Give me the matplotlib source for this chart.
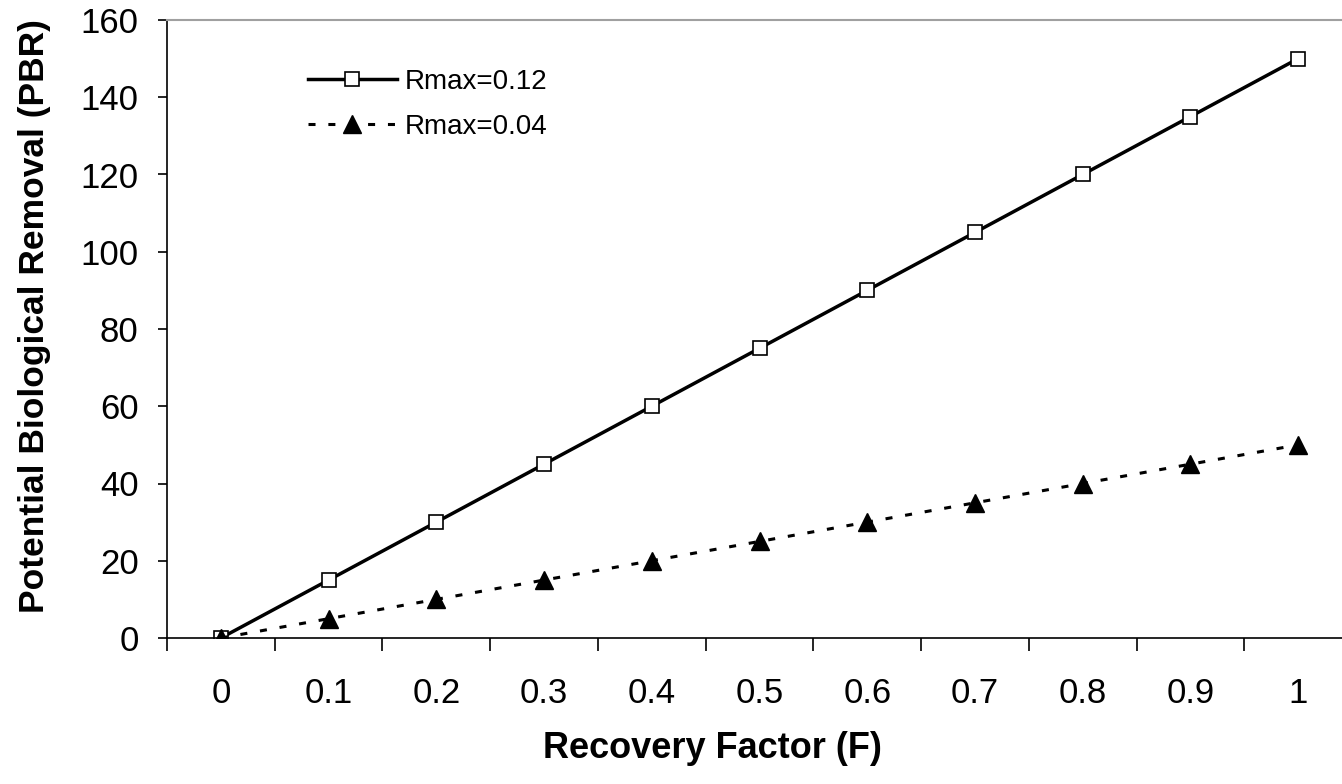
import matplotlib
matplotlib.use("Agg")
import matplotlib.pyplot as plt
import numpy as np

plt.rcParams["font.family"] = ["Liberation Sans", "DejaVu Sans"]

# recovery factor categories and PBR values for two Rmax values
factors = ["0", "0.1", "0.2", "0.3", "0.4", "0.5", "0.6", "0.7", "0.8", "0.9", "1"]
pbr_r012 = [0, 15, 30, 45, 60, 75, 90, 105, 120, 135, 150]
pbr_r004 = [0, 5, 10, 15, 20, 25, 30, 35, 40, 45, 50]
yticks = [0, 20, 40, 60, 80, 100, 120, 140, 160]

W, H = 1342, 784
fig = plt.figure(figsize=(W / 100, H / 100), dpi=100)
ax = fig.add_axes([167 / W, 146 / H, 1185 / W, 618 / H])

x = np.arange(len(factors))
ax.plot(x, pbr_r012, color="black", lw=2.5, marker="s", ms=10,
        mfc="white", mec="black", mew=1.2, label="Rmax=0.12")
ax.plot(x, pbr_r004, color="black", lw=2.2, ls=(0, (2.3, 4.2)), marker="^",
        ms=13, mfc="black", mec="black", label="Rmax=0.04")

ax.set_xlim(-0.5, len(factors) - 0.5)
ax.set_ylim(0, 160)

ax.set_xticks(x)
ax.set_xticklabels(factors, fontsize=25)
ax.set_xticks(np.arange(-0.5, len(factors), 1.0), minor=True)
ax.tick_params(axis="x", which="major", length=0, pad=28)
ax.tick_params(axis="x", which="minor", length=9, width=1.2, direction="out")

ax.set_yticks(yticks)
ax.tick_params(axis="y", which="major", labelsize=25, length=6.5, width=1.2,
               direction="out", pad=14)

for side in ["left", "bottom"]:
    ax.spines[side].set_linewidth(1.2)
ax.spines["right"].set_visible(False)
ax.spines["top"].set_color("#a0a0a0")
ax.spines["top"].set_linewidth(1.5)

fig.text(712 / W, 1 - 748 / H, "Recovery Factor (F)", fontsize=26,
         fontweight="bold", ha="center", va="center")
fig.text(35 / W, 1 - 316 / H, "Potential Biological Removal (PBR)",
         fontsize=25.5, fontweight="bold", ha="center", va="center",
         rotation=90)

ax.legend(loc="center left", bbox_to_anchor=(308 / W, 1 - 104.5 / H),
          bbox_transform=fig.transFigure, frameon=False, fontsize=20,
          handlelength=3.2, handletextpad=0.3, labelspacing=0.68,
          borderpad=0, borderaxespad=0)

fig.savefig("out.png", dpi=100)
